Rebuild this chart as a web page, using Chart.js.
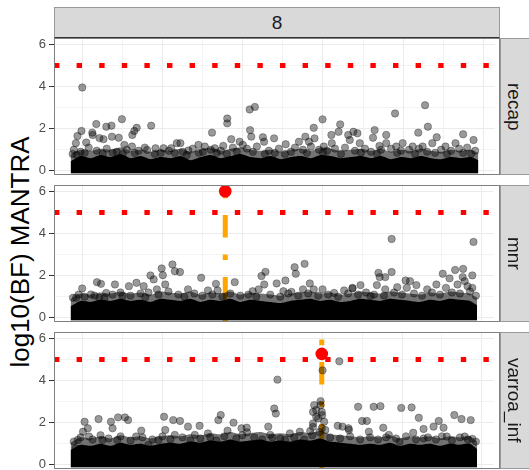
<!DOCTYPE html>
<html>
<head>
<meta charset="utf-8">
<script src="https://cdn.jsdelivr.net/npm/chart.js@4.4.0/dist/chart.umd.min.js"></script>
<style>
  body { margin: 0; background: #fff; }
  #fig { position: relative; width: 529px; height: 470px; overflow: hidden; font-family: "Liberation Sans", Arial, sans-serif; }
  .ylab { position: absolute; left: 20px; top: 252px; transform: translate(-50%, -50%) rotate(-90deg); font-size: 26px; white-space: nowrap; color: #000; }
  .strip-top { position: absolute; left: 54px; top: 7px; width: 446px; height: 31px; box-sizing: border-box; background: #D9D9D9; border: 1px solid #999; border-bottom-color: #333; color: #1A1A1A; font-size: 19px; text-align: center; line-height: 29px; }
  .strip-side { position: absolute; left: 500px; width: 32px; height: 137px; box-sizing: border-box; background: #D9D9D9; border: 1px solid #999; color: #1A1A1A; font-size: 19px; writing-mode: vertical-rl; display: flex; align-items: center; justify-content: center; }
  .strip-side span { margin-right: 4px; }
  .frame { position: absolute; left: 54px; width: 446px; height: 137px; box-sizing: border-box; border: 1px solid #808080; pointer-events: none; }
  canvas { position: absolute; left: 0; }
</style>
</head>
<body>
<div id="fig">
  <div class="ylab">log10(BF) MANTRA</div>
  <div class="strip-top">8</div>

  <canvas id="p0" width="500" height="153" style="top:30px"></canvas>
  <canvas id="p1" width="500" height="153" style="top:177px"></canvas>
  <canvas id="p2" width="500" height="153" style="top:324px"></canvas>

  <div class="frame" style="top:38px"></div>
  <div class="frame" style="top:185px"></div>
  <div class="frame" style="top:332px"></div>

  <div class="strip-side" style="top:38px"><span>recap</span></div>
  <div class="strip-side" style="top:185px"><span>mnr</span></div>
  <div class="strip-side" style="top:332px"><span>varroa_inf</span></div>
</div>

<script>
// chromosome 8, positions in Mb, log10 Bayes factors
const xMin = 1.284, xMax = 12.296
const yMin = -0.2, yMax = 6.3
const xGrid = [2, 3, 4, 5, 6, 7, 8, 9, 10, 11, 12]
const yGrid = [0, 1, 2, 3, 4, 5, 6]
const yTickLabels = [0, 2, 4, 6]
const threshold = 5

// bulk of SNPs near zero: solid core and the overlapping fringe above it
const cloudX = [1.70, 1.95, 2.2, 2.45, 2.7, 2.95, 3.2, 3.45, 3.7, 3.95, 4.2, 4.45, 4.7, 4.95, 5.2, 5.45, 5.7, 5.95, 6.2, 6.45, 6.7,
  6.95, 7.2, 7.45, 7.7, 7.95, 8.2, 8.45, 8.7, 8.95, 9.2, 9.45, 9.7, 9.95, 10.2, 10.45, 10.7, 10.95, 11.2, 11.45, 11.7, 11.88]
const recapCore = [0.45, 0.7, 0.6, 0.75, 0.65, 0.8, 0.6, 0.7, 0.55, 0.65, 0.6, 0.7, 0.5, 0.65, 0.75, 0.6, 0.7, 0.8, 0.65, 0.6, 0.7,
  0.55, 0.65, 0.7, 0.6, 0.75, 0.7, 0.6, 0.65, 0.7, 0.6, 0.7, 0.55, 0.65, 0.6, 0.7, 0.6, 0.55, 0.65, 0.6, 0.65, 0.5]
const recapFringe = [0.8, 1.0, 0.95, 1.05, 1.0, 1.1, 0.95, 1.0, 0.9, 1.0, 0.95, 1.05, 0.9, 1.0, 1.1, 0.95, 1.05, 1.1, 1.0, 0.95, 1.0,
  0.9, 1.0, 1.05, 0.95, 1.1, 1.05, 0.95, 1.0, 1.05, 0.95, 1.05, 0.9, 1.0, 0.95, 1.05, 0.95, 0.9, 1.0, 0.95, 1.0, 0.85]
const mnrCore = [0.55, 0.8, 0.75, 0.85, 0.8, 0.9, 0.8, 0.85, 0.75, 0.9, 0.85, 0.8, 0.9, 0.75, 0.85, 0.8, 0.9, 0.75, 0.85, 0.8, 0.75,
  0.7, 0.8, 0.85, 0.9, 0.8, 0.85, 0.75, 0.8, 0.9, 0.85, 0.8, 0.9, 0.85, 0.8, 0.75, 0.85, 0.8, 0.9, 0.85, 0.8, 0.6]
const mnrFringe = [0.9, 1.15, 1.1, 1.2, 1.15, 1.25, 1.15, 1.2, 1.1, 1.25, 1.2, 1.15, 1.25, 1.1, 1.2, 1.15, 1.25, 1.1, 1.2, 1.15, 1.1,
  1.05, 1.15, 1.2, 1.25, 1.15, 1.2, 1.1, 1.15, 1.25, 1.2, 1.15, 1.25, 1.2, 1.15, 1.1, 1.2, 1.15, 1.25, 1.2, 1.15, 0.95]
const varroaCore = [0.7, 0.95, 0.9, 1.0, 0.9, 1.05, 0.95, 1.0, 0.9, 1.0, 1.05, 1.0, 1.1, 1.05, 1.15, 1.1, 1.2, 1.1, 1.15, 1.2, 1.1,
  1.15, 1.1, 1.2, 1.15, 1.25, 1.1, 1.05, 1.0, 0.95, 1.0, 0.95, 1.05, 0.9, 1.0, 0.95, 1.0, 0.9, 1.0, 0.95, 1.0, 0.75]
const varroaFringe = [1.05, 1.3, 1.25, 1.35, 1.25, 1.4, 1.3, 1.35, 1.25, 1.35, 1.4, 1.35, 1.45, 1.4, 1.5, 1.45, 1.55, 1.45, 1.5, 1.55, 1.45,
  1.5, 1.45, 1.55, 1.5, 1.6, 1.45, 1.4, 1.35, 1.3, 1.35, 1.3, 1.4, 1.25, 1.35, 1.3, 1.35, 1.25, 1.35, 1.3, 1.35, 1.1]

// individual SNPs above the bulk: [position, log10BF]
const recapSnps = [
  [1.99,3.95],[2.34,2.22],[1.87,1.65],[1.97,1.89],[2.24,1.81],[2.25,1.70],[2.59,2.09],[2.72,2.14],[2.98,2.45],[2.73,1.62],
  [2.90,1.57],[3.24,1.70],[3.29,1.89],[3.35,2.04],[3.71,2.14],[1.83,1.31],[2.09,1.34],[2.52,1.50],[3.04,1.23],[1.75,0.80],
  [3.61,0.99],[3.82,1.07],[4.02,1.07],[4.21,1.07],[4.35,1.31],[2.42,1.55],[3.23,1.15],
  [5.23,1.81],[5.61,2.48],[5.61,2.25],[6.17,2.91],[6.30,3.03],[6.18,1.93],[6.21,1.62],[5.71,1.50],[5.92,1.38],[6.00,1.23],
  [6.50,1.59],[6.78,1.54],[6.53,1.38],[7.07,1.26],[7.77,2.04],[7.99,2.44],[7.56,1.62],[7.40,1.38],[7.65,1.38],[7.79,1.54],
  [8.21,1.70],[8.43,2.20],[8.39,1.85],[8.63,1.70],[8.76,1.85],[8.67,1.46],[4.64,0.96],[4.89,1.23],[5.05,1.15],[5.51,1.18],
  [5.30,1.07],[4.44,1.31],[8.22,1.31],[8.02,1.15],
  [9.80,2.72],[10.55,3.11],[10.62,2.09],[10.38,1.81],[10.84,1.59],[11.50,1.73],[11.76,1.46],[9.29,1.93],[8.86,1.78],[9.25,1.57],
  [9.58,1.70],[9.58,1.31],[9.83,1.15],[10.24,1.15],[10.49,1.15],[11.06,1.15],[11.31,1.31],[8.92,1.31],[9.41,1.18],[9.99,1.31],[10.73,1.31],
  [1.78,1.0],[1.95,0.9],[2.15,1.1],[2.35,0.95],[2.6,1.05],[2.85,0.9],[3.1,1.0],[3.4,0.95],[3.55,1.1],[3.95,0.85],
  [4.15,0.95],[4.5,0.9],[4.75,1.05],[5.0,0.9],[5.2,1.0],[5.45,0.95],[5.75,1.1],[5.85,0.9],[6.1,1.05],[6.35,1.15],
  [6.65,0.95],[6.9,1.05],[7.2,0.9],[7.3,1.1],[7.5,1.0],[7.7,1.15],[7.9,1.0],[8.1,0.95],[8.3,1.05],[8.55,1.1],
  [8.8,0.95],[9.05,1.05],[9.2,0.9],[9.45,1.0],[9.7,1.05],[9.95,0.95],[10.15,1.0],[10.4,1.05],[10.6,0.9],[10.95,1.0],
  [11.2,0.95],[11.4,1.05],[11.6,1.1],[11.8,0.95],
  [1.85,0.75],[2.05,0.85],[2.5,0.8],[2.75,0.85],[3.0,0.8],[3.3,0.85],[3.8,0.8],[4.3,0.85],[4.6,0.75],[4.9,0.85],
  [5.35,0.85],[5.6,0.8],[6.25,0.9],[6.55,0.8],[6.8,0.85],[7.05,0.8],[7.6,0.85],[8.0,0.85],[8.45,0.8],[8.95,0.85],
  [9.35,0.8],[9.85,0.85],[10.3,0.8],[10.8,0.85],[11.1,0.8],[11.5,0.85],[11.7,0.8]
]
const mnrSnps = [
  [2.36,1.69],[2.46,1.61],[2.81,1.58],[3.16,1.50],[3.35,1.66],[3.53,1.50],[3.70,2.01],[3.78,1.82],[3.98,2.34],[4.01,2.02],
  [4.25,2.53],[3.86,1.35],[1.99,1.39],[2.21,1.11],[2.59,1.18],[3.00,1.03],[3.57,0.98],[2.42,0.95],[4.31,2.21],[4.07,1.58],[1.84,0.95],
  [4.44,2.17],[4.97,1.90],[4.64,1.35],[5.34,1.61],[5.38,1.30],[5.14,1.30],[5.81,1.69],[6.48,1.98],[6.58,2.18],[6.55,1.58],
  [6.41,1.35],[6.86,1.63],[7.08,1.77],[7.31,2.40],[7.34,2.09],[7.56,2.56],[7.69,1.63],[7.79,1.35],[8.30,1.18],[8.76,1.42],
  [6.26,1.26],[7.03,1.26],[7.23,1.23],[7.52,1.35],[8.01,1.35],[8.55,1.30],
  [9.74,3.74],[11.79,3.60],[9.41,2.13],[9.44,1.93],[9.58,1.93],[9.74,2.17],[9.37,1.55],[9.88,1.45],[10.09,1.77],[10.20,1.74],
  [10.36,1.55],[10.12,1.42],[11.02,2.09],[11.19,1.87],[11.33,2.27],[11.53,2.32],[11.52,1.93],[11.76,2.01],[11.76,1.42],[10.86,1.58],
  [11.39,1.58],[10.63,1.35],[8.76,1.39],[8.96,1.55],[9.21,1.03],[9.58,1.35],[11.10,1.42],[11.57,1.74],[11.64,1.50],
  [1.76,0.95],[1.9,1.1],[2.05,1.0],[2.3,1.05],[2.55,0.95],[2.75,1.1],[2.95,1.2],[3.2,1.05],[3.45,1.15],[3.65,1.2],
  [3.9,1.1],[4.15,1.25],[4.4,1.1],[4.55,1.0],[4.8,1.15],[5.0,1.05],[5.25,1.1],[5.5,1.0],[5.7,1.15],[5.95,1.05],
  [6.15,1.1],[6.35,1.0],[6.7,1.1],[6.95,1.0],[7.15,1.15],[7.4,1.05],[7.65,1.15],[7.9,1.05],[8.15,1.1],[8.4,1.0],
  [8.65,1.15],[8.9,1.1],[9.1,1.2],[9.3,1.1],[9.55,1.05],[9.8,1.2],[10.0,1.1],[10.3,1.15],[10.5,1.05],[10.75,1.2],
  [10.95,1.1],[11.25,1.2],[11.45,1.15],[11.7,1.25],[11.85,1.05]
]
const varroaSnps = [
  [2.40,2.17],[2.71,2.04],[2.75,1.73],[2.89,2.25],[3.06,2.25],[3.14,2.12],[2.05,2.04],[2.13,1.73],[2.01,1.57],[3.47,1.62],
  [1.88,1.18],[1.83,0.78],[2.16,1.34],[2.50,1.18],[2.87,1.18],[3.34,1.34],[3.65,0.94],[4.04,2.28],[4.07,1.65],[4.27,2.12],
  [4.31,1.42],[3.90,1.18],
  [8.43,4.91],[6.88,4.04],[8.01,4.48],[7.96,3.02],[7.96,2.83],[7.80,2.83],[6.80,2.67],[6.84,2.43],[7.77,2.51],[7.85,2.28],
  [7.99,2.51],[7.77,1.96],[8.05,2.04],[7.77,1.80],[7.99,1.73],[5.46,2.36],[5.40,2.12],[5.78,2.00],[5.98,1.73],[6.11,1.76],
  [6.12,1.54],[4.64,1.81],[4.93,1.85],[4.44,2.08],[5.63,1.62],[6.65,1.81],[7.19,1.49],[7.44,1.57],[8.39,1.85],[8.51,1.81],
  [8.66,1.73],[4.81,1.42],[5.14,1.49],[6.70,1.42],[7.07,1.18],[7.90,2.20],[8.00,2.35],[7.85,2.60],[7.93,1.55],[8.08,1.65],[7.70,1.60],
  [8.90,2.75],[9.29,2.75],[9.46,2.78],[9.98,2.70],[10.24,2.72],[10.42,2.23],[11.31,2.36],[11.49,2.17],[11.72,2.12],[9.00,2.08],
  [9.12,2.08],[9.53,1.76],[10.92,2.08],[10.79,1.81],[11.04,1.76],[10.54,1.70],[10.28,1.52],[9.17,1.57],[9.67,1.42],[10.54,1.25],
  [11.12,1.34],[11.57,1.34],[11.76,1.23],[8.67,1.65],[9.94,1.10],
  [1.78,1.1],[1.95,1.3],[2.25,1.2],[2.45,1.4],[2.65,1.25],[2.95,1.35],[3.2,1.15],[3.5,1.3],[3.75,1.2],[4.0,1.35],
  [4.2,1.2],[4.5,1.3],[4.7,1.15],[4.95,1.25],[5.2,1.3],[5.35,1.15],[5.55,1.35],[5.85,1.25],[6.0,1.4],[6.3,1.3],
  [6.5,1.2],[6.75,1.3],[6.95,1.25],[7.3,1.3],[7.55,1.2],[7.75,1.4],[8.2,1.3],[8.45,1.25],[8.7,1.35],[8.95,1.2],
  [9.2,1.3],[9.4,1.2],[9.6,1.3],[9.85,1.25],[10.1,1.35],[10.35,1.2],[10.65,1.3],[10.85,1.2],[11.0,1.35],[11.25,1.15],
  [11.45,1.3],[11.65,1.2],[11.85,1.1]
]

// top hit per trait (none for recap)
const hitPos = [null, 5.573, 7.99]
const hitVal = [null, 6.0, 5.26]

const panels = [
  { id: 'p0', core: recapCore, fringe: recapFringe, snps: recapSnps },
  { id: 'p1', core: mnrCore, fringe: mnrFringe, snps: mnrSnps },
  { id: 'p2', core: varroaCore, fringe: varroaFringe, snps: varroaSnps }
]

const bulkLayer = (values, colour, order) => ({
  type: 'line',
  data: cloudX.map((x, k) => ({ x: x, y: values[k] })),
  borderWidth: 0,
  borderColor: colour,
  backgroundColor: colour,
  pointRadius: 0,
  tension: 0.2,
  fill: { value: -0.12 },
  order: order
})

const makePanel = (panel, i) => {
  const datasets = [
    {
      type: 'scatter',
      data: hitPos[i] === null ? [] : [{ x: hitPos[i], y: hitVal[i] }],
      backgroundColor: '#FF0000',
      borderColor: '#FF0000',
      pointRadius: 6.3,
      borderWidth: 0,
      order: 0
    },
    {
      type: 'line',
      data: [{ x: xMin, y: threshold }, { x: xMax, y: threshold }],
      borderColor: '#FF0000',
      borderWidth: 5,
      borderDash: [5.4, 17.2],
      pointRadius: 0,
      fill: false,
      order: 1
    },
    {
      type: 'scatter',
      data: panel.snps.map(s => ({ x: s[0], y: s[1] })),
      backgroundColor: 'rgba(0,0,0,0.4)',
      borderColor: 'rgba(0,0,0,0.3)',
      borderWidth: 1,
      pointRadius: 3.7,
      order: 2
    },
    bulkLayer(panel.core, '#000000', 3),
    bulkLayer(panel.fringe, 'rgba(0,0,0,0.55)', 4)
  ]
  if (hitPos[i] !== null) {
    datasets.push({
      type: 'line',
      data: [{ x: hitPos[i], y: yMin }, { x: hitPos[i], y: yMax }],
      borderColor: '#FFA500',
      borderWidth: 5,
      borderDash: [5.6, 16.9, 22.5, 16.9],
      pointRadius: 0,
      fill: false,
      order: 5
    })
  }

  return new Chart(document.getElementById(panel.id), {
    data: { datasets },
    options: {
      responsive: false,
      devicePixelRatio: 1,
      animation: false,
      events: [],
      layout: { padding: { top: 8, bottom: 8, left: 0, right: 0 } },
      plugins: { legend: { display: false }, tooltip: { enabled: false } },
      scales: {
        x: {
          type: 'linear',
          min: xMin,
          max: xMax,
          afterBuildTicks: scale => { scale.ticks = xGrid.map(v => ({ value: v })) },
          afterFit: scale => { scale.height = 0; scale.paddingLeft = 0; scale.paddingRight = 0 },
          ticks: { display: false },
          border: { display: false },
          grid: {
            drawTicks: false,
            color: '#EBEBEB',
            lineWidth: ctx => (ctx.tick.value % 2 === 0 ? 1 : 0.6)
          }
        },
        y: {
          type: 'linear',
          min: yMin,
          max: yMax,
          afterBuildTicks: scale => { scale.ticks = yGrid.map(v => ({ value: v })) },
          afterFit: scale => { scale.width = 54; scale.paddingTop = 0; scale.paddingBottom = 0 },
          border: { display: false },
          ticks: {
            padding: 3,
            color: '#4D4D4D',
            font: { family: 'Liberation Sans', size: 13 },
            callback: v => (yTickLabels.includes(v) ? String(v) : '')
          },
          grid: {
            color: '#EBEBEB',
            lineWidth: ctx => (ctx.tick.value % 2 === 0 ? 1 : 0.6),
            tickLength: 5,
            tickColor: ctx => (ctx.tick.value % 2 === 0 ? '#333333' : 'rgba(0,0,0,0)'),
            tickWidth: 1
          }
        }
      }
    }
  })
}

panels.forEach(makePanel)
</script>
</body>
</html>
